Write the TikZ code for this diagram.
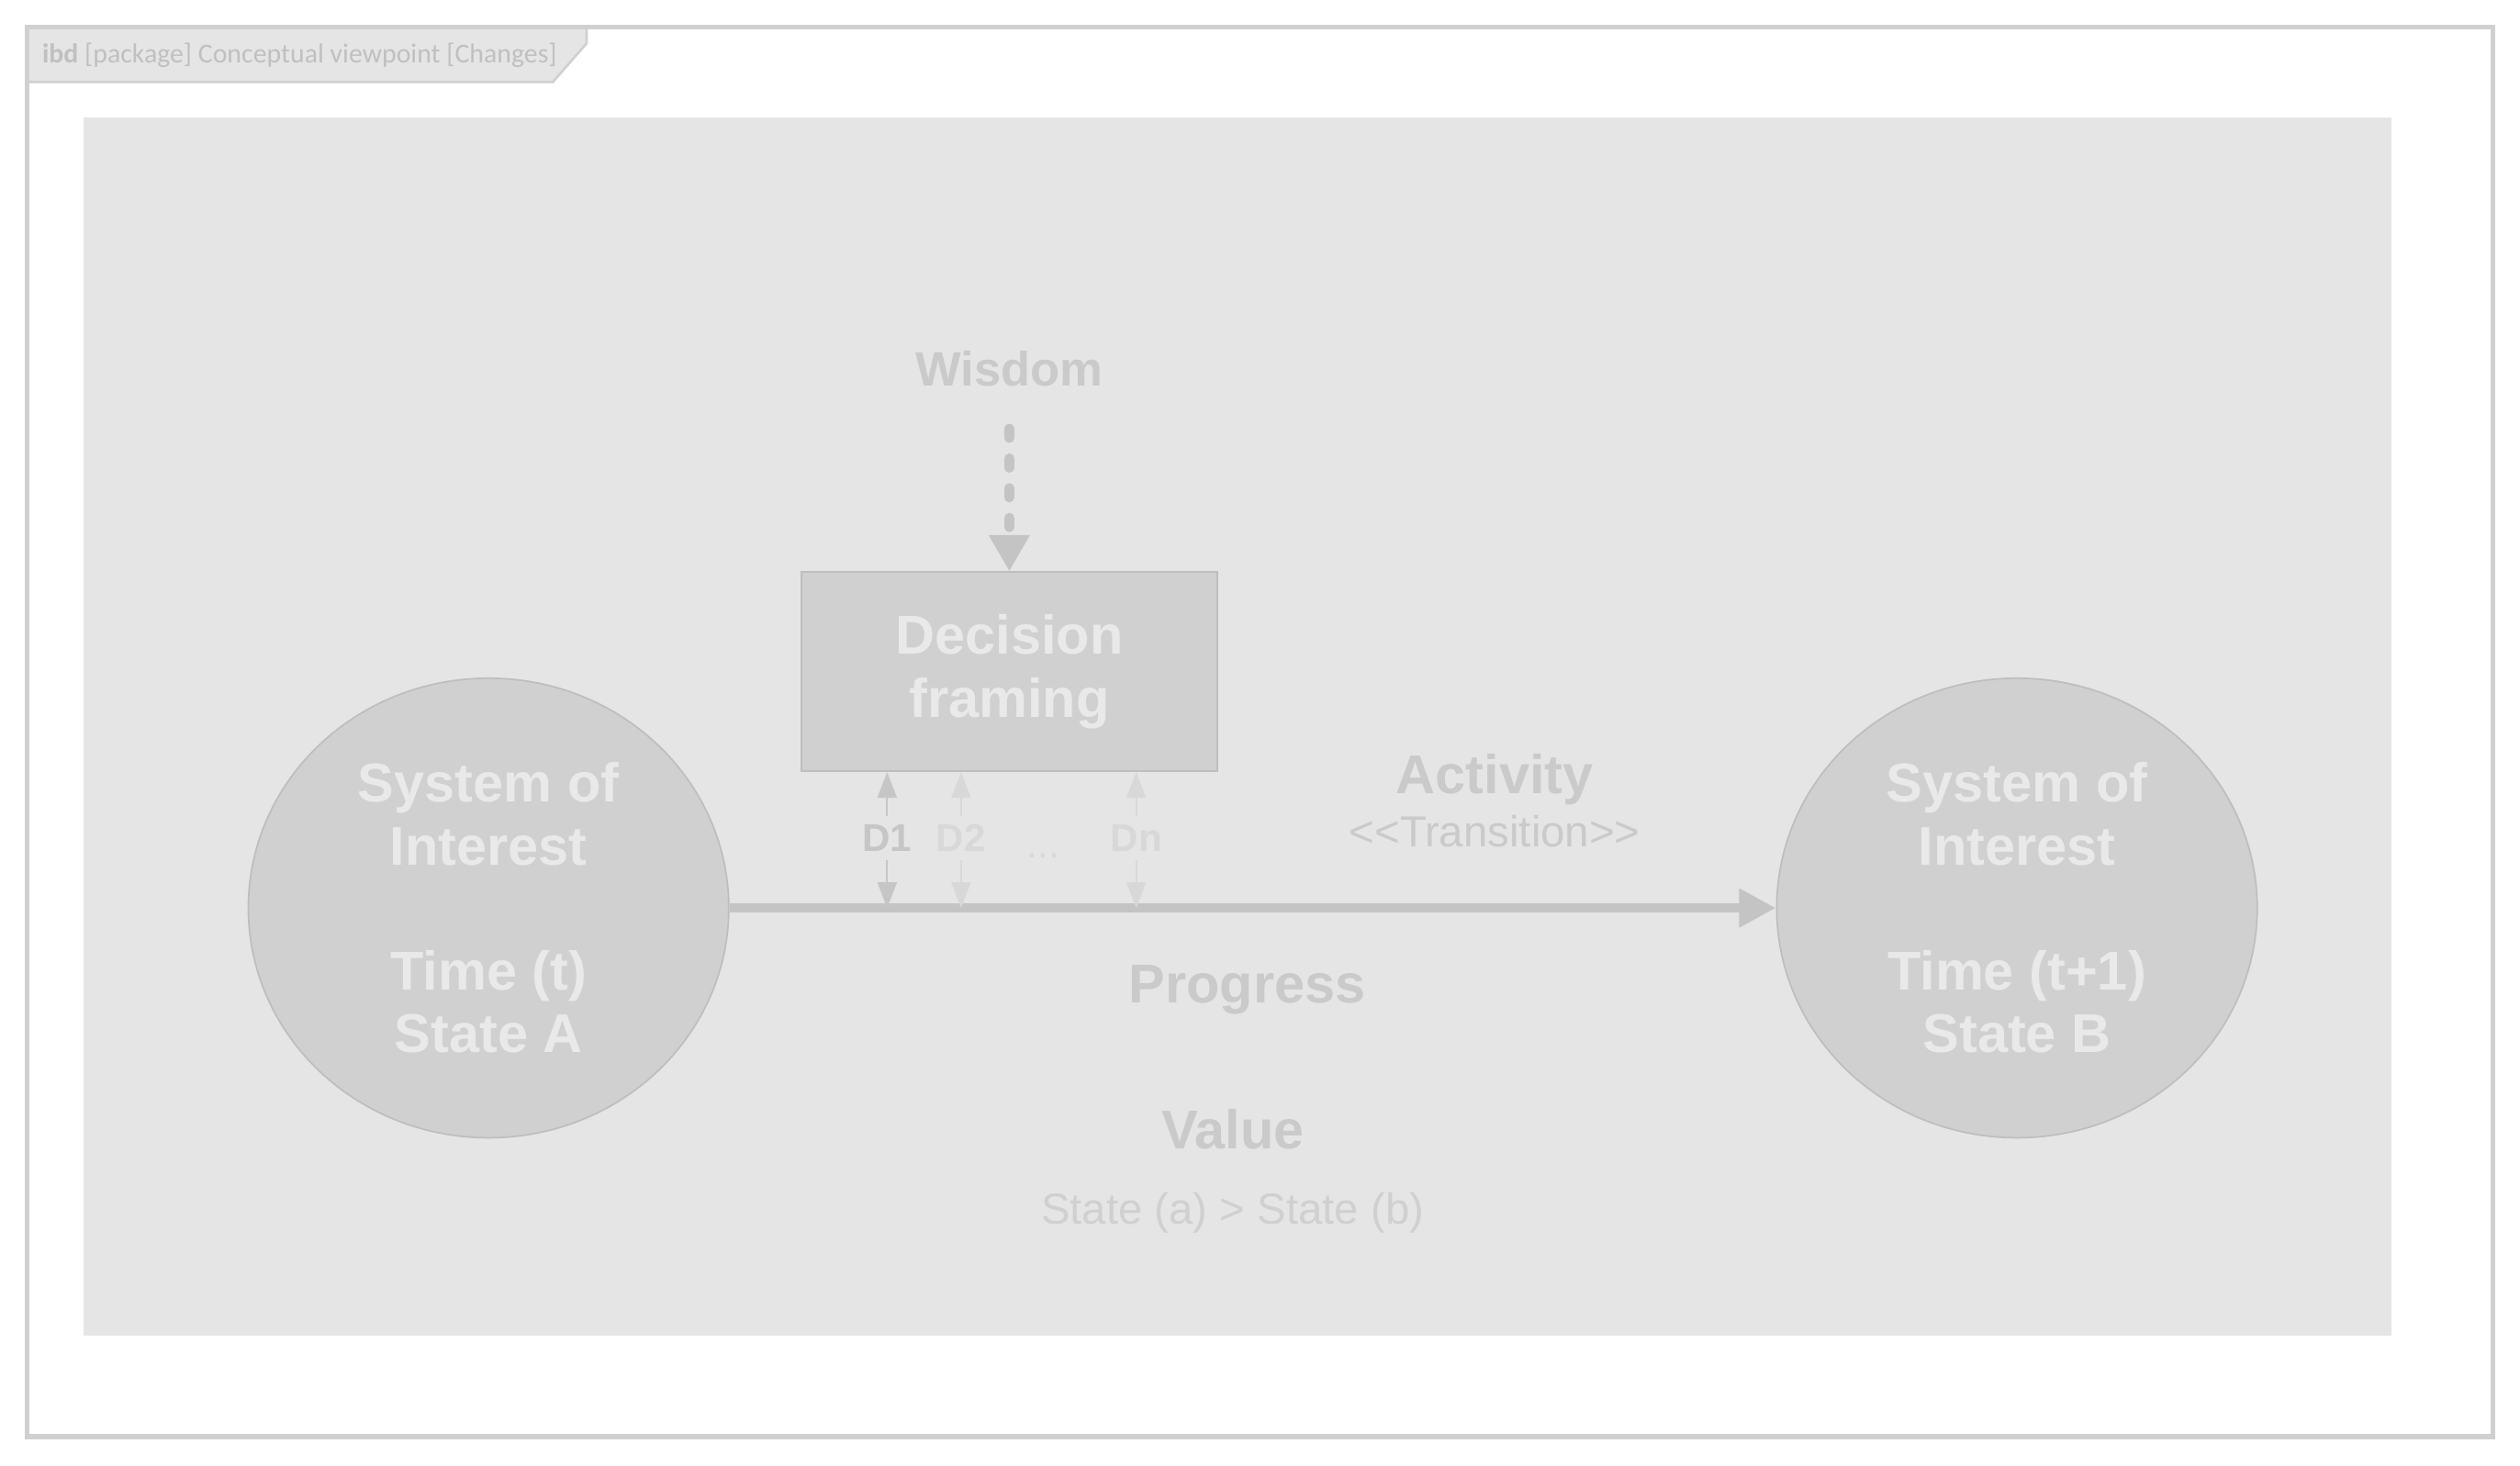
\documentclass[tikz,border=0pt]{standalone}
\usepackage{fontspec}
\setmainfont{Liberation Sans}
\newfontfamily\tabfont{Carlito}
\usepackage{tikz}
\usetikzlibrary{shapes,arrows.meta,positioning,calc}

\definecolor{framegray}{HTML}{D0D0D0}
\definecolor{areagray}{HTML}{E5E5E5}
\definecolor{shapegray}{HTML}{D0D0D0}
\definecolor{edgegray}{HTML}{BEBEBE}
\definecolor{inkgray}{HTML}{E9E9E9}
\definecolor{notegray}{HTML}{CACACA}
\definecolor{valuegray}{HTML}{D0D0D0}
\definecolor{linegray}{HTML}{C4C4C4}
\definecolor{dgray}{HTML}{C6C6C6}
\definecolor{faintgray}{HTML}{D8D8D8}
\definecolor{tabgray}{HTML}{C0C0C0}

\newcommand{\headfont}{\fontsize{19.35pt}{22.2pt}\selectfont\bfseries}
\newcommand{\wisdomfont}{\fontsize{17.1pt}{20pt}\selectfont\bfseries}
\newcommand{\notefont}{\fontsize{15.4pt}{18pt}\selectfont}
\newcommand{\dfont}{\fontsize{13.7pt}{16pt}\selectfont\bfseries}
\newcommand{\dotfont}{\fontsize{13.7pt}{16pt}\selectfont}
\newcommand{\tabtext}{\tabfont\fontsize{9.7pt}{11pt}\selectfont}

\begin{document}
\begin{tikzpicture}[
    x=0.02cm, y=-0.02cm,
    state/.style={ellipse, draw=edgegray, fill=shapegray, line width=0.02cm, minimum width=5.98cm, minimum height=5.72cm, inner sep=0pt, align=center, text=inkgray, font=\headfont},
    box/.style={rectangle, draw=edgegray, fill=shapegray, line width=0.02cm, minimum width=5.18cm, minimum height=2.48cm, align=center, text=inkgray, font=\headfont},
    note/.style={anchor=base, inner sep=0pt, text=notegray},
    dlabel/.style={anchor=base, inner sep=0.1cm, font=\dfont},
    arrow/.style={-{Triangle[length=0.46cm, width=0.46cm]}, line width=0.12cm, draw=linegray},
    wisdomarrow/.style={-{Triangle[length=0.45cm, width=0.48cm]}, line width=0.12cm, draw=linegray, line cap=round, dash pattern=on 0.12cm off 0.25cm},
    darrow/.style={-{Triangle[length=0.32cm, width=0.24cm]}, line width=0.025cm}
]
    % page and diagram frame
    \useasboundingbox (0,0) rectangle (1568,912);
    \fill[white] (0,0) rectangle (1568,912);
    \fill[areagray] (52,73) rectangle (1488,831);
    \draw[framegray, fill=areagray, line width=0.03cm] (17,17) -- (365,17) -- (365,27) -- (344,51) -- (17,51) -- cycle;
    \draw[framegray, line width=0.06cm] (17,17) rectangle (1551,894);
    \node[anchor=base west, inner sep=0pt, text=tabgray, font=\tabtext] (title) at (26,39) {\textbf{ibd} [package] Conceptual viewpoint [Changes]};

    % states and decision
    \node[state] (sysA) at (304,565) {System of\\Interest\\[22.2pt]Time (t)\\State A};
    \node[state] (sysB) at (1255,565) {System of\\Interest\\[22.2pt]Time (t+1)\\State B};
    \node[box] (framing) at (628,418) {Decision\\framing};

    % free labels
    \node[note, font=\wisdomfont] (wisdom) at (628,240) {Wisdom};
    \node[note, font=\headfont] (activity) at (930,494) {Activity};
    \node[note, font=\notefont] (transition) at (930,527) {<{}<Transition>{}>};
    \node[note, font=\headfont] (progress) at (776,624) {Progress};
    \node[note, font=\headfont] (value) at (767,715) {Value};
    \node[note, font=\notefont, text=valuegray] (valuecmp) at (767,762) {State (a) > State (b)};

    % decisions
    \node[dlabel, text=dgray] (d1) at (552,530) {D1};
    \node[dlabel, text=faintgray] (d2) at (598,530) {D2};
    \node[dlabel, text=faintgray] (dn) at (707,530) {Dn};
    \node[anchor=base, inner sep=0pt, font=\dotfont, text=faintgray] (ddots) at (649,534) {...};

    \draw[arrow] (sysA) -- (sysB);
    \draw[wisdomarrow, shorten <=0.52cm] (wisdom) -- (framing);
    \foreach \d/\c in {d1/dgray, d2/faintgray, dn/faintgray} {
        \draw[darrow, draw=\c] (\d) -- (\d |- framing.south);
        \draw[darrow, draw=\c] (\d) -- (\d |- sysA.east);
    }
\end{tikzpicture}
\end{document}
